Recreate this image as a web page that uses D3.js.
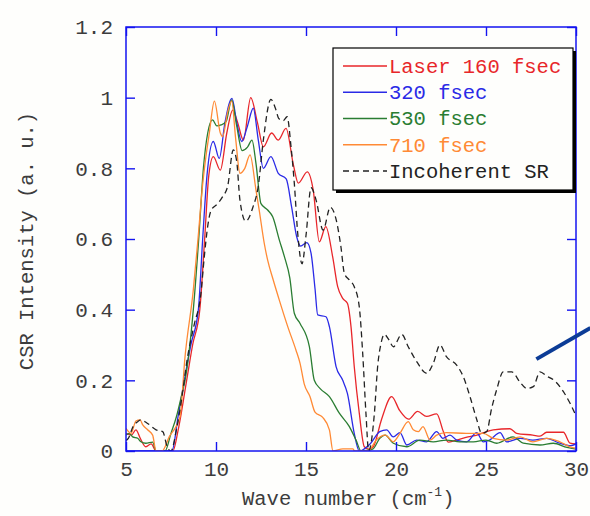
<!DOCTYPE html>
<html>
<head>
<meta charset="utf-8">
<script src="https://cdn.jsdelivr.net/npm/d3@7"></script>
<style>
  html, body { margin: 0; padding: 0; background: #fefefc; }
  svg { display: block; }
  text { font-family: "Liberation Mono", "DejaVu Sans Mono", monospace; fill: #3c3c3c; }
</style>
</head>
<body>
<svg id="chart" width="590" height="516"></svg>
<script>
// Spectra: [wave number (cm^-1), normalised CSR intensity]
const laser160 = [[5.0,0.05],[5.3,0.045],[5.55,0.06],[5.8,0.035],[6.1,0.012],[6.4,0.02],[6.67,0],[7.6,0],[7.9,0.06],[8.37,0.2],[8.7,0.3],[9.1,0.4],[9.37,0.6],[9.6,0.78],[9.85,0.833],[10.24,0.795],[10.6,0.9],[10.93,0.965],[11.2,0.93],[11.52,0.88],[11.93,1.0],[12.3,0.93],[12.63,0.861],[13.09,0.9],[13.46,0.88],[13.89,0.913],[14.3,0.81],[14.57,0.758],[15.07,0.79],[15.4,0.739],[15.74,0.592],[16.1,0.635],[16.48,0.55],[16.76,0.465],[17.04,0.432],[17.3,0.418],[17.5,0.352],[17.68,0.239],[17.96,0.107],[18.24,0.012],[18.5,0.005],[18.74,0.012],[19.2,0.09],[19.76,0.154],[20.2,0.115],[20.7,0.09],[21.2,0.112],[21.7,0.098],[22.26,0.105],[22.63,0.055],[22.9,0.025],[23.3,0.03],[24.0,0.04],[24.5,0.045],[25.04,0.055],[25.4,0.06],[26.33,0.063],[26.7,0.05],[27.6,0.045],[28.0,0.042],[28.37,0.053],[29.3,0.053],[29.67,0.022],[30,0.02]];

const fs320 = [[5.0,0],[7.55,0],[7.9,0.1],[8.24,0.2],[8.6,0.3],[9.02,0.4],[9.26,0.6],[9.5,0.78],[9.85,0.876],[10.18,0.828],[10.5,0.93],[10.89,0.998],[11.15,0.93],[11.43,0.876],[11.75,0.92],[12.07,0.97],[12.35,0.88],[12.63,0.8],[13.05,0.833],[13.46,0.786],[13.9,0.77],[14.2,0.691],[14.48,0.607],[14.7,0.58],[15.05,0.59],[15.28,0.56],[15.5,0.46],[15.65,0.385],[16.11,0.38],[16.3,0.352],[16.67,0.239],[17.04,0.2],[17.3,0.163],[17.68,0.05],[17.96,0],[18.56,0.02],[19.1,0.055],[19.48,0.06],[19.85,0.04],[20.22,0.052],[20.6,0.017],[21.15,0.031],[21.7,0.026],[22.26,0.055],[22.6,0.036],[23.0,0.045],[23.37,0.031],[23.93,0.026],[24.48,0.052],[24.85,0.026],[25.2,0.031],[25.78,0.052],[26.15,0.026],[26.9,0.036],[27.6,0.031],[28.37,0.036],[29.1,0.022],[29.7,0.015],[30,0.02]];

const fs530 = [[5.0,0.045],[5.18,0.05],[5.37,0.04],[5.65,0.036],[5.83,0.026],[6.1,0.022],[6.48,0.025],[6.67,0],[7.17,0],[7.5,0.05],[7.8,0.097],[8.1,0.16],[8.28,0.2],[8.74,0.4],[9.04,0.6],[9.3,0.8],[9.54,0.9],[9.81,0.937],[10.05,0.92],[10.28,0.923],[10.56,0.932],[10.87,0.994],[11.15,0.92],[11.45,0.85],[11.75,0.86],[12.0,0.88],[12.22,0.814],[12.5,0.7],[12.87,0.682],[13.15,0.663],[13.52,0.597],[13.8,0.55],[14.1,0.49],[14.35,0.39],[14.67,0.361],[15.19,0.295],[15.46,0.2],[15.8,0.176],[16.3,0.154],[16.85,0.107],[17.41,0.069],[17.78,0.031],[18.06,0],[18.7,0.005],[19.1,0.036],[19.4,0.045],[19.85,0.022],[20.6,0.012],[21.33,0.031],[22.07,0.026],[22.8,0.031],[23.55,0.026],[24.3,0.026],[25.0,0.031],[25.6,0.022],[26.5,0.04],[27.07,0.022],[28.0,0.017],[28.74,0.022],[29.5,0.01],[30,0.005]];

const fs710 = [[5.0,0.064],[5.28,0.05],[5.55,0.085],[5.78,0.088],[5.93,0.074],[6.2,0.06],[6.48,0.045],[6.67,0],[7.0,0],[7.4,0.04],[8.0,0.097],[8.28,0.267],[8.74,0.456],[9.0,0.6],[9.25,0.75],[9.44,0.833],[9.63,0.9],[9.91,0.99],[10.24,0.9],[10.37,0.89],[10.65,0.96],[10.87,0.99],[11.1,0.88],[11.33,0.786],[11.6,0.8],[11.89,0.838],[12.22,0.739],[12.4,0.682],[12.68,0.588],[12.87,0.54],[13.18,0.484],[13.5,0.43],[14.0,0.35],[14.44,0.286],[14.67,0.248],[14.9,0.19],[15.22,0.154],[15.5,0.11],[15.93,0.095],[16.3,0.06],[16.5,0],[17.05,0.006],[17.6,0.006],[17.7,0],[18.46,0],[18.9,0.031],[19.4,0.045],[19.85,0.026],[20.22,0.05],[20.68,0.083],[20.96,0.06],[21.24,0.055],[21.5,0.069],[21.89,0.031],[22.26,0.045],[22.8,0.052],[23.9,0.05],[24.85,0.05],[25.4,0.036],[26.15,0.031],[26.9,0.04],[27.6,0.026],[28.37,0.036],[29.1,0.026],[29.67,0.012],[30,0.008]];

const incoherentSR = [[5.0,0.03],[5.13,0.036],[5.4,0.07],[5.65,0.083],[5.83,0.088],[6.2,0.078],[6.67,0.06],[7.04,0.055],[7.3,0.01],[7.5,0.0],[7.8,0.06],[8.1,0.15],[8.4,0.26],[8.8,0.36],[9.15,0.44],[9.35,0.55],[9.55,0.64],[9.72,0.68],[10.09,0.70],[10.37,0.72],[10.65,0.75],[10.96,0.852],[11.15,0.82],[11.33,0.71],[11.65,0.65],[12.05,0.69],[12.35,0.75],[12.63,0.88],[13.05,0.995],[13.3,0.97],[13.5,0.94],[13.74,0.935],[13.95,0.946],[14.17,0.86],[14.35,0.758],[14.54,0.616],[14.78,0.53],[15.0,0.61],[15.28,0.745],[15.56,0.71],[15.95,0.625],[16.35,0.69],[16.65,0.66],[16.94,0.578],[17.13,0.503],[17.41,0.484],[17.68,0.465],[17.96,0.408],[18.15,0.276],[18.33,0.107],[18.48,0],[18.8,0.107],[18.98,0.239],[19.17,0.305],[19.35,0.33],[19.6,0.315],[19.85,0.295],[20.32,0.33],[20.68,0.295],[21.15,0.253],[21.7,0.22],[22.07,0.248],[22.44,0.3],[22.8,0.267],[23.37,0.243],[23.74,0.21],[24.11,0.154],[24.48,0.09],[24.76,0.05],[25.04,0.055],[25.31,0.12],[25.59,0.173],[25.96,0.224],[26.43,0.224],[26.89,0.195],[27.26,0.177],[27.63,0.182],[28.0,0.224],[28.37,0.212],[28.83,0.198],[29.3,0.168],[29.67,0.135],[30,0.1]];

const seriesNames = ["Laser 160 fsec", "320 fsec", "530 fsec", "710 fsec", "Incoherent SR"];
const seriesData = [laser160, fs320, fs530, fs710, incoherentSR];
const seriesColors = ["#e8262a", "#2a2ae6", "#2a7d32", "#ff8a35", "#222222"];
const seriesDash = [null, null, null, null, "6,4"];

const xTicks = [5, 10, 15, 20, 25, 30];
const yTicks = [0, 0.2, 0.4, 0.6, 0.8, 1, 1.2];
const xLabel = "Wave number (cm";
const yLabel = "CSR Intensity (a. u.)";

// Navy pointer segment running off the right edge
const pointer = [[27.8, 0.26], [30.8, 0.348]];

const svg = d3.select("#chart");
const plot = { left: 126, right: 576, top: 27, bottom: 451 };
const axisBlue = "#1515f0";

const x = d3.scaleLinear().domain([5, 30]).range([plot.left, plot.right]);
const y = d3.scaleLinear().domain([0, 1.2]).range([plot.bottom, plot.top]);

svg.append("rect").attr("width", 590).attr("height", 516).attr("fill", "#fefefc");

svg.append("clipPath").attr("id", "plotClip")
  .append("rect")
  .attr("x", plot.left).attr("y", plot.top - 2)
  .attr("width", plot.right - plot.left).attr("height", plot.bottom - plot.top + 2);

const line = d3.line()
  .x(d => x(d[0]))
  .y(d => y(d[1]))
  .curve(d3.curveMonotoneX);

const curves = svg.append("g").attr("clip-path", "url(#plotClip)");
seriesData.forEach((data, i) => {
  curves.append("path")
    .datum(data)
    .attr("d", line)
    .attr("fill", "none")
    .attr("stroke", seriesColors[i])
    .attr("stroke-width", 1.3)
    .attr("stroke-dasharray", seriesDash[i]);
});

// Axes with inward ticks on all four sides
const tickLen = 9;
const fmt = d3.format("");
const styleAxis = g => {
  g.selectAll(".domain").remove();
  g.selectAll(".tick line").attr("stroke", axisBlue).attr("stroke-width", 1.4);
  g.selectAll(".tick text").attr("fill", "#3c3c3c").style("font-size", "21px");
};

svg.append("g")
  .attr("transform", `translate(0,${plot.bottom})`)
  .call(d3.axisBottom(x).tickValues(xTicks).tickSizeInner(-tickLen).tickSizeOuter(0).tickPadding(10).tickFormat(fmt))
  .call(styleAxis);

svg.append("g")
  .attr("transform", `translate(0,${plot.top})`)
  .call(d3.axisTop(x).tickValues(xTicks).tickSizeInner(-tickLen).tickSizeOuter(0).tickFormat(""))
  .call(styleAxis);

svg.append("g")
  .attr("transform", `translate(${plot.left},0)`)
  .call(d3.axisLeft(y).tickValues(yTicks).tickSizeInner(-tickLen).tickSizeOuter(0).tickPadding(13).tickFormat(d3.format("~g")))
  .call(styleAxis);

svg.append("g")
  .attr("transform", `translate(${plot.right},0)`)
  .call(d3.axisRight(y).tickValues(yTicks).tickSizeInner(-tickLen).tickSizeOuter(0).tickFormat(""))
  .call(styleAxis);

svg.append("rect")
  .attr("x", plot.left).attr("y", plot.top)
  .attr("width", plot.right - plot.left).attr("height", plot.bottom - plot.top)
  .attr("fill", "none").attr("stroke", axisBlue).attr("stroke-width", 1.5);

// Axis titles
const xt = svg.append("text")
  .attr("x", 242).attr("y", 505)
  .style("font-size", "20.5px");
xt.append("tspan").text(xLabel);
xt.append("tspan").attr("dy", -9).style("font-size", "13px").text("-1");
xt.append("tspan").attr("dy", 9).text(")");

svg.append("text")
  .attr("transform", `translate(33,${(plot.top + plot.bottom) / 2 + 2}) rotate(-90)`)
  .attr("text-anchor", "middle")
  .style("font-size", "20.5px")
  .text(yLabel);

// Legend
const lg = { x: 333, y: 48, w: 240, h: 142 };
svg.append("rect").attr("x", lg.x + 3).attr("y", lg.y + 3).attr("width", lg.w).attr("height", lg.h).attr("fill", "#000");
svg.append("rect").attr("x", lg.x).attr("y", lg.y).attr("width", lg.w).attr("height", lg.h)
  .attr("fill", "#fefefc").attr("stroke", "#000").attr("stroke-width", 1.2);

const rowY = d3.scalePoint().domain(seriesNames).range([66, 171]);
seriesNames.forEach((name, i) => {
  const cy = rowY(name);
  svg.append("line")
    .attr("x1", 343).attr("x2", 387).attr("y1", cy).attr("y2", cy)
    .attr("stroke", seriesColors[i]).attr("stroke-width", 1.3)
    .attr("stroke-dasharray", seriesDash[i]);
  svg.append("text")
    .attr("x", 389).attr("y", cy).attr("dy", "0.33em")
    .style("font-size", "20.5px")
    .style("fill", seriesColors[i])
    .text(name);
});

// Pointer segment
svg.append("path")
  .datum(pointer)
  .attr("d", d3.line().x(d => x(d[0])).y(d => y(d[1])))
  .attr("stroke", "#0c3c96").attr("stroke-width", 4).attr("fill", "none");
</script>
</body>
</html>
